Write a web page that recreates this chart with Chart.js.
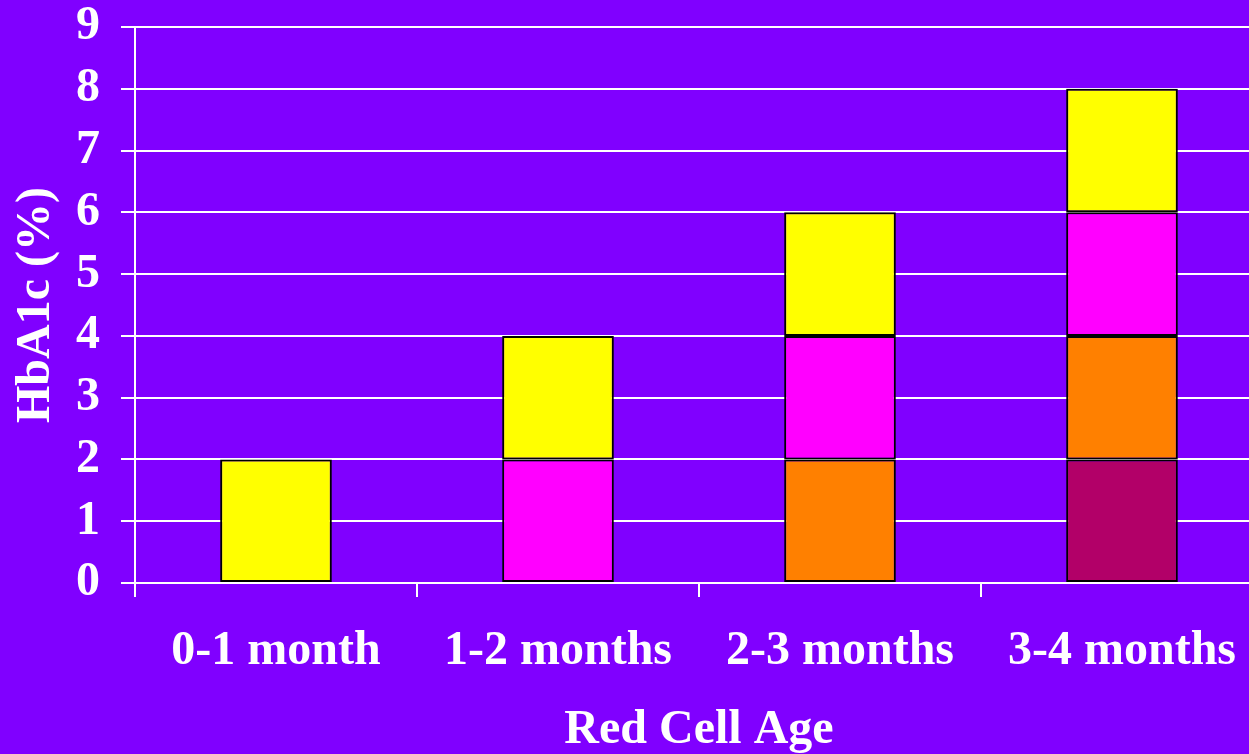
<!DOCTYPE html>
<html>
<head>
<meta charset="utf-8">
<script src="https://cdn.jsdelivr.net/npm/chart.js@4/dist/chart.umd.min.js"></script>
<style>
  html, body { margin: 0; padding: 0; background: #8000FF; overflow: hidden; width: 1249px; height: 754px; }
  canvas { display: block; background: #8000FF; }
</style>
</head>
<body>
<canvas id="c" width="1280" height="754"></canvas>
<script>
// Red cell age groups and HbA1c contribution per cohort (stacked, bottom to top)
const categories = ['0-1 month', '1-2 months', '2-3 months', '3-4 months'];
const cohort4 = [null, null, null, 2];   // oldest cells
const cohort3 = [null, null, 2, 2];
const cohort2 = [null, 2, 2, 2];
const cohort1 = [2, 2, 2, 2];            // newest cells
const yTicks = [0, 1, 2, 3, 4, 5, 6, 7, 8, 9];

const FONT = { family: '"Liberation Serif", "Times New Roman", serif', size: 48, weight: 'bold' };

const mk = (data, color) => ({
  data,
  backgroundColor: color,
  borderColor: '#000000',
  borderWidth: 2,
  borderSkipped: false,
  categoryPercentage: 1.0,
  barPercentage: 0.396
});

new Chart(document.getElementById('c'), {
  type: 'bar',
  data: {
    labels: categories,
    datasets: [
      mk(cohort4, '#B20068'),
      mk(cohort3, '#FF8000'),
      mk(cohort2, '#FF00FF'),
      mk(cohort1, '#FFFF00')
    ]
  },
  options: {
    responsive: false,
    animation: false,
    layout: { padding: { left: 0, right: 17, top: 27, bottom: 0 } },
    plugins: { legend: { display: false }, tooltip: { enabled: false } },
    scales: {
      x: {
        stacked: true,
        grid: { display: true, drawOnChartArea: false, drawTicks: true, tickLength: 14, color: '#FFFFFF', lineWidth: 2, offset: true },
        border: { display: true, color: '#FFFFFF', width: 2 },
        ticks: { color: '#FFFFFF', font: FONT, padding: 26, maxRotation: 0, autoSkip: false },
        title: { display: true, text: 'Red Cell Age', color: '#FFFFFF', font: FONT, padding: { top: 0, bottom: -5 } },
        afterFit: (s) => { s.height = 171; s.paddingLeft = 0; s.paddingRight = 0; }
      },
      y: {
        stacked: true,
        min: 0,
        max: 9,
        afterBuildTicks: (s) => { s.ticks = yTicks.map(v => ({ value: v })); },
        grid: { color: '#FFFFFF', lineWidth: 2, tickLength: 14, drawTicks: true },
        border: { display: true, color: '#FFFFFF', width: 2 },
        ticks: { color: '#FFFFFF', font: FONT, padding: 21, autoSkip: false, stepSize: 1 },
        title: { display: true, text: 'HbA1c (%)', color: '#FFFFFF', font: FONT, padding: { top: 8, bottom: 0 } },
        afterFit: (s) => { s.width = 135; s.paddingTop = 0; s.paddingBottom = 0; }
      }
    }
  }
});
</script>
</body>
</html>
